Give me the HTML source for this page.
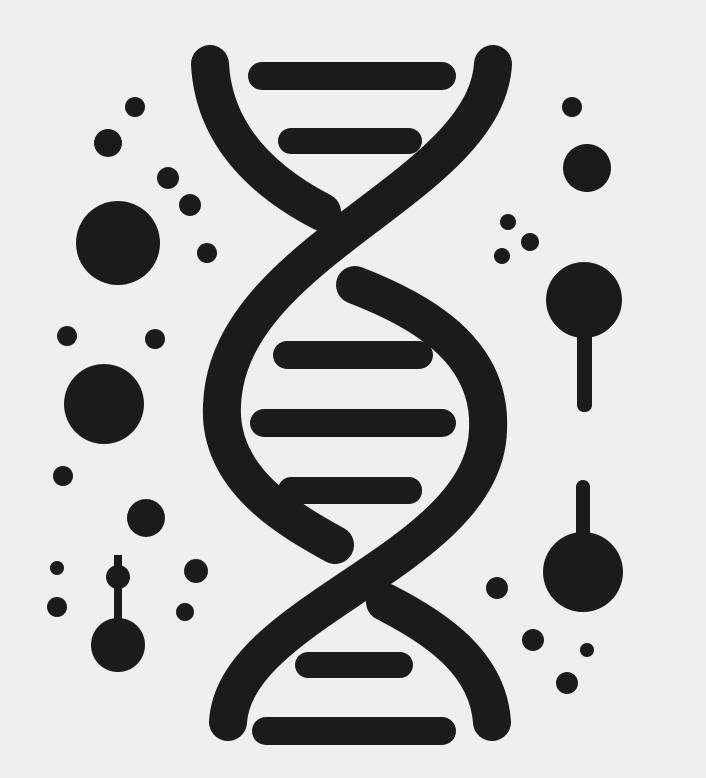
<!DOCTYPE html>
<html><head><meta charset="utf-8"><style>
html,body{margin:0;padding:0;background:#efefef;}
svg{display:block;}
</style></head><body>
<svg width="706" height="778" viewBox="0 0 706 778">
<rect width="706" height="778" fill="#efefef"/>
<g fill="none" stroke="#1b1b1b" stroke-width="38" stroke-linecap="round">
<path d="M210,64 C214,140 270,185 322,212"/>
<path d="M493,64 C485,190 228,250 222,405 C218,480 290,520 335,545"/>
<path d="M355,285 C420,310 492,350 488,430 C484,560 235,610 228,722"/>
<path d="M385,602 C440,630 488,665 492,722"/>
</g>
<g fill="#1b1b1b">
<rect x="248" y="62" width="208" height="28" rx="14"/>
<rect x="278" y="128" width="144" height="26" rx="13"/>
<rect x="273" y="341" width="160" height="28" rx="14"/>
<rect x="250" y="409" width="206" height="28" rx="14"/>
<rect x="278" y="477" width="144" height="27" rx="13"/>
<rect x="295" y="652" width="118" height="26" rx="13"/>
<rect x="252" y="717" width="204" height="28" rx="14"/>
</g>
<g fill="#1b1b1b">
<circle cx="135" cy="107" r="10"/><circle cx="108" cy="143" r="14"/><circle cx="118" cy="243" r="42"/>
<circle cx="168" cy="178" r="11"/><circle cx="190" cy="205" r="11"/><circle cx="207" cy="253" r="10"/>
<circle cx="67" cy="336" r="10"/><circle cx="155" cy="339" r="10"/><circle cx="104" cy="404" r="40"/>
<circle cx="63" cy="476" r="10"/><circle cx="146" cy="518" r="19"/><circle cx="196" cy="571" r="12"/>
<circle cx="185" cy="612" r="9"/><circle cx="57" cy="607" r="10"/><circle cx="57" cy="568" r="7"/>
<circle cx="572" cy="107" r="10"/><circle cx="587" cy="168" r="24"/><circle cx="508" cy="222" r="8"/>
<circle cx="530" cy="242" r="9"/><circle cx="502" cy="256" r="8"/>
<circle cx="497" cy="588" r="11"/><circle cx="533" cy="640" r="11"/><circle cx="587" cy="650" r="7"/><circle cx="567" cy="683" r="11"/>
</g>
<g fill="#1b1b1b">
<rect x="114" y="555" width="8" height="80"/><circle cx="118" cy="645" r="27"/><circle cx="118" cy="577" r="12"/>
</g>
<g fill="#1b1b1b">
<rect x="577" y="300" width="15" height="112" rx="7"/><circle cx="584" cy="300" r="38"/>
</g>
<g fill="#1b1b1b">
<rect x="576" y="480" width="14" height="70" rx="7"/><circle cx="583" cy="572" r="40"/>
</g>
</svg>
</body></html>
